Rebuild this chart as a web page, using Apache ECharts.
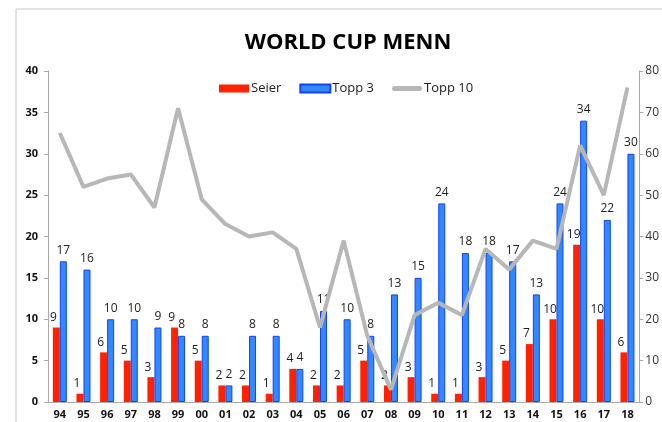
<!DOCTYPE html>
<html>
<head>
<meta charset="utf-8">
<script src="https://cdn.jsdelivr.net/npm/echarts@6/dist/echarts.min.js"></script>
<style>
  html, body { margin: 0; padding: 0; background: #fff; }
  #main { width: 662px; height: 422px; }
</style>
</head>
<body>
<div id="main"></div>
<script>
// sesonger (år)
const years = ['94','95','96','97','98','99','00','01','02','03','04','05','06','07','08','09','10','11','12','13','14','15','16','17','18'];
const seier = [9,1,6,5,3,9,5,2,2,1,4,2,2,5,2,3,1,1,3,5,7,10,19,10,6];
const topp3 = [17,16,10,10,9,8,8,2,8,8,4,11,10,8,13,15,24,18,18,17,13,24,34,22,30];
const topp10 = [65,52,54,55,47,71,49,43,40,41,37,18,39,16,3,21,24,21,37,32,39,37,62,50,76];
const leftTicks = [0,5,10,15,20,25,30,35,40];
const rightTicks = [0,10,20,30,40,50,60,70,80];

const chart = echarts.init(document.getElementById('main'));

const labelFont = { fontFamily: 'Open Sans', fontSize: 12, color: '#222' };

const option = {
  animation: false,
  backgroundColor: '#fff',
  title: {
    text: 'WORLD CUP MENN',
    left: 343,
    textAlign: 'center',
    top: 27,
    textStyle: { fontFamily: 'Open Sans', fontWeight: 'bold', fontSize: 22, color: '#000' }
  },
  legend: {
    top: 77,
    left: 214,
    itemWidth: 30,
    itemHeight: 8,
    itemGap: 18,
    textStyle: { fontFamily: 'Open Sans', fontSize: 13, color: '#222', padding: [0, 0, 0, -3] },
    data: [
      { name: 'Seier', icon: 'rect' },
      { name: 'Topp 3', icon: 'rect' },
      { name: 'Topp 10', icon: 'path://M2,0 L28,0 Q30,0 30,2.5 Q30,5 28,5 L2,5 Q0,5 0,2.5 Q0,0 2,0 Z', itemStyle: { color: '#b7b7b7' } }
    ]
  },
  graphic: [{
    type: 'rect',
    shape: { x: 16, y: 9, width: 700, height: 500 },
    style: { fill: 'none', stroke: '#c8c8c8', lineWidth: 1 },
    silent: true
  }],
  grid: { left: 48, right: 22, top: 71, bottom: 20 },
  xAxis: {
    type: 'category',
    data: years,
    axisLine: { lineStyle: { color: '#aaa' } },
    axisTick: { lineStyle: { color: '#aaa' }, length: 4 },
    axisLabel: { fontFamily: 'Open Sans', fontWeight: 'bold', fontSize: 11, color: '#111', margin: 7 }
  },
  yAxis: [{
    type: 'value',
    min: 0, max: 40, interval: 5,
    splitLine: { show: false },
    axisLine: { show: true, lineStyle: { color: '#aaa' } },
    axisTick: { show: true, length: 4, lineStyle: { color: '#aaa' } },
    axisLabel: {
      fontFamily: 'Open Sans', fontWeight: 'bold', fontSize: 11, color: '#111', margin: 10,
      formatter: v => leftTicks.includes(v) ? String(v) : ''
    }
  }, {
    type: 'value',
    min: 0, max: 80, interval: 10,
    position: 'right',
    splitLine: { show: false },
    axisLine: { show: true, lineStyle: { color: '#aaa' } },
    axisTick: { show: true, length: 4, lineStyle: { color: '#aaa' } },
    axisLabel: {
      fontFamily: 'Open Sans', fontSize: 12, color: '#333', margin: 6,
      formatter: v => rightTicks.includes(v) ? String(v) : ''
    }
  }],
  series: [{
    name: 'Seier',
    type: 'bar',
    data: seier,
    barWidth: 7,
    barGap: '0%',
    itemStyle: { color: '#ff2200' },
    label: { show: true, position: 'top', distance: 4, offset: [-3, 0], ...labelFont }
  }, {
    name: 'Topp 3',
    type: 'bar',
    data: topp3,
    barWidth: 7,
    itemStyle: { color: '#3388ff', borderColor: '#1144ee', borderWidth: 1 },
    label: { show: true, position: 'top', distance: 5, offset: [0, 0], ...labelFont }
  }, {
    name: 'Topp 10',
    type: 'line',
    yAxisIndex: 1,
    data: topp10,
    symbol: 'none',
    z: 5,
    lineStyle: { color: '#b7b7b7', width: 4 },
    itemStyle: { color: '#b7b7b7' }
  }]
};

chart.setOption(option);
</script>
</body>
</html>
